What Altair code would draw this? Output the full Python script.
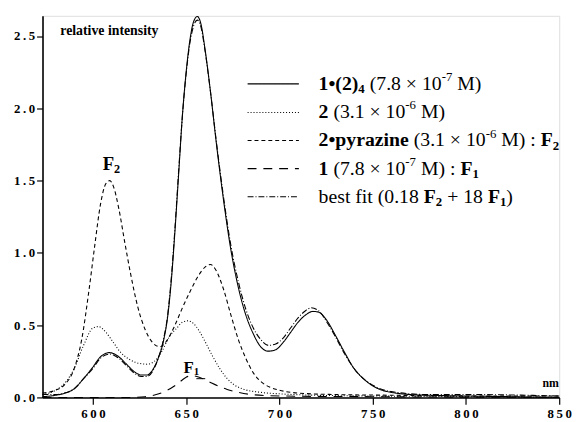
import altair as alt
import pandas as pd

# ---------------- data ----------------
solid_x = [573, 580, 585, 590, 595, 600, 604, 609, 614, 618, 622, 626, 629, 632, 635, 638, 640, 642, 644, 646,
           648, 650, 652, 654, 656, 658, 660, 663, 666, 670, 674, 678, 682, 686, 690, 694, 698, 702, 706, 710,
           714, 718, 721, 725, 730, 735, 740, 745, 750, 755, 760, 770, 780, 800, 850]
solid_y = [0.005, 0.015, 0.03, 0.06, 0.13, 0.21, 0.28, 0.31, 0.28, 0.23, 0.18, 0.155, 0.155, 0.19, 0.27, 0.40,
           0.55, 0.80, 1.15, 1.55, 1.95, 2.25, 2.47, 2.60, 2.635, 2.58, 2.42, 2.12, 1.78, 1.37, 1.02, 0.76, 0.57,
           0.44, 0.35, 0.32, 0.33, 0.38, 0.45, 0.52, 0.57, 0.595, 0.59, 0.54, 0.43, 0.31, 0.20, 0.13, 0.08, 0.05,
           0.035, 0.02, 0.015, 0.01, 0.0]

dot_x = [573, 580, 585, 590, 595, 600, 603, 607, 611, 615, 620, 625, 629, 633, 637, 641, 645, 648, 651, 654,
         657, 660, 664, 668, 672, 676, 680, 690, 700, 720, 750, 800, 850]
dot_y = [0.02, 0.05, 0.10, 0.20, 0.36, 0.48, 0.49, 0.45, 0.38, 0.31, 0.26, 0.235, 0.23, 0.25, 0.32, 0.42, 0.48,
         0.52, 0.53, 0.51, 0.46, 0.39, 0.29, 0.20, 0.13, 0.085, 0.06, 0.035, 0.025, 0.015, 0.01, 0.005, 0.0]

pyr_x = [573, 580, 585, 590, 594, 598, 601, 604, 607, 609, 611, 614, 617, 620, 624, 628, 632, 636, 640, 644,
         648, 652, 656, 660, 663, 666, 670, 674, 678, 682, 686, 690, 695, 700, 710, 730, 760, 800, 850]
pyr_y = [0.03, 0.05, 0.09, 0.20, 0.40, 0.75, 1.05, 1.33, 1.48, 1.50, 1.46, 1.30, 1.08, 0.87, 0.63, 0.47, 0.38,
         0.35, 0.40, 0.50, 0.62, 0.73, 0.83, 0.90, 0.92, 0.88, 0.75, 0.57, 0.40, 0.27, 0.17, 0.11, 0.07, 0.05,
         0.03, 0.02, 0.015, 0.01, 0.01]

f1_x = [573, 600, 620, 628, 634, 640, 645, 650, 653, 657, 662, 667, 672, 678, 685, 700, 750, 850]
f1_y = [0.0, 0.0, 0.0, 0.005, 0.02, 0.05, 0.09, 0.14, 0.15, 0.14, 0.11, 0.08, 0.055, 0.035, 0.02, 0.01, 0.005, 0.0]

fit_x = [573, 580, 585, 590, 595, 600, 604, 609, 614, 618, 622, 626, 629, 632, 635, 638, 640, 642, 644, 646,
         648, 650, 652, 654, 656, 658, 660, 663, 666, 670, 674, 678, 682, 686, 690, 694, 698, 702, 706, 710,
         714, 717, 721, 725, 730, 735, 740, 745, 750, 760, 780, 800, 850]
fit_y = [0.02, 0.02, 0.03, 0.06, 0.13, 0.20, 0.27, 0.30, 0.27, 0.22, 0.17, 0.145, 0.145, 0.18, 0.27, 0.41, 0.56,
         0.82, 1.17, 1.57, 1.95, 2.24, 2.45, 2.57, 2.61, 2.56, 2.41, 2.12, 1.79, 1.39, 1.05, 0.80, 0.61, 0.48,
         0.40, 0.36, 0.37, 0.41, 0.48, 0.55, 0.60, 0.62, 0.60, 0.53, 0.42, 0.30, 0.20, 0.13, 0.085, 0.04, 0.02,
         0.02, 0.01]

series_names = ["1•(2)4", "2", "2•pyrazine", "1", "best fit"]
series_dash = [[1, 0], [1, 2], [4, 3], [9, 7], [6, 2, 1, 2]]

y_ticks = [0.0, 0.5, 1.0, 1.5, 2.0, 2.5]
x_ticks = [600, 650, 700, 750, 800, 850]

rows = []
for name, xs, ys in [(series_names[0], solid_x, solid_y), (series_names[1], dot_x, dot_y),
                     (series_names[2], pyr_x, pyr_y), (series_names[3], f1_x, f1_y),
                     (series_names[4], fit_x, fit_y)]:
    for a, b in zip(xs, ys):
        rows.append({"series": name, "nm": a, "v": b})
df = pd.DataFrame(rows)

SERIF = "Liberation Serif"

lab_expr = "join(split(format(datum.value, '{f}'), ''), '\u2009')"

lines = alt.Chart(df).mark_line(color="black", strokeWidth=1.1, interpolate="monotone").encode(
    x=alt.X("nm:Q", scale=alt.Scale(domain=[573, 850], nice=False, zero=False),
            axis=alt.Axis(values=x_ticks, title=None, grid=False, labelExpr=lab_expr.format(f="d"),
                          labelFont=SERIF, labelFontWeight="bold", labelFontSize=13, labelColor="black",
                          tickSize=7, tickColor="black", tickWidth=1.2, domainColor="black", domainWidth=1.6,
                          labelPadding=3, labelFlush=False, labelOverlap=False)),
    y=alt.Y("v:Q", scale=alt.Scale(domain=[0, 2.64], nice=False),
            axis=alt.Axis(values=y_ticks, title=None, grid=False, labelExpr=lab_expr.format(f=".1f"),
                          labelFont=SERIF, labelFontWeight="bold", labelFontSize=13, labelColor="black",
                          tickSize=6, tickColor="black", tickWidth=1.2, domainColor="black", domainWidth=1.6,
                          labelPadding=2, labelFlush=False, labelOverlap=False)),
    strokeDash=alt.StrokeDash("series:N", scale=alt.Scale(domain=series_names, range=series_dash), legend=None),
    detail="series:N",
)

# ---------------- text helpers ----------------
W_N = {' ': 250, '(': 333, ')': 333, '.': 250, '×': 564, 'M': 889, 'b': 500, 'e': 444, 's': 389, 't': 278,
       'f': 333, 'i': 278, '+': 564, ':': 278, '-': 333, 'F': 556}
W_B = {' ': 250, '(': 333, ')': 333, '•': 350, 'p': 556, 'y': 500, 'r': 444, 'a': 500, 'z': 444, 'i': 278,
       'n': 556, 'e': 444, 'F': 611, 'M': 944, ':': 333, 'l': 278, 't': 333, 'v': 500, 's': 389, 'm': 833}


def text_width(t, bold):
    table = W_B if bold else W_N
    return sum(table.get(c, 500) for c in t) / 1000.0


one = pd.DataFrame({"k": [0]})


def runs(items, x0, y0, size):
    out = []
    x = x0
    for item in items:
        t, bold, kind = item
        fs = size if kind == "n" else size * 0.65
        yy = y0 if kind == "n" else (y0 + size * 0.28 if kind == "sub" else y0 - size * 0.35)
        if t.strip():
            out.append(alt.Chart(one).mark_text(
                text=t, align="left", baseline="middle", font=SERIF, fontSize=fs,
                fontWeight="bold" if bold else "normal", color="black"
            ).encode(x=alt.value(x), y=alt.value(yy)))
        x += text_width(t, bold) * fs
    return out


B, N = True, False
S = " "
leg_size = 20
leg_x = 280
leg_y = [69, 98, 126.5, 155, 183.5]
legend_rows = [
    [("1•(2)", B, "n"), ("4", B, "sub"), (S, N, "n"), ("(7.8 × 10", N, "n"), ("-7", N, "sup"), (S, N, "n"), ("M)", N, "n")],
    [("2", B, "n"), (S, N, "n"), ("(3.1 × 10", N, "n"), ("-6", N, "sup"), (S, N, "n"), ("M)", N, "n")],
    [("2•pyrazine", B, "n"), (S, N, "n"), ("(3.1 × 10", N, "n"), ("-6", N, "sup"), (S, N, "n"), ("M) :", N, "n"),
     (S, N, "n"), ("F", B, "n"), ("2", B, "sub")],
    [("1", B, "n"), (S, N, "n"), ("(7.8 × 10", N, "n"), ("-7", N, "sup"), (S, N, "n"), ("M) :", N, "n"),
     (S, N, "n"), ("F", B, "n"), ("1", B, "sub")],
    [("best fit (0.18", N, "n"), (S, N, "n"), ("F", B, "n"), ("2", B, "sub"), (S, N, "n"), ("+ 18", N, "n"),
     (S, N, "n"), ("F", B, "n"), ("1", B, "sub"), (")", N, "n")],
]

layers = [lines]
for i, row in enumerate(legend_rows):
    layers.append(alt.Chart(one).mark_rule(color="black", strokeWidth=1.1, strokeDash=series_dash[i]).encode(
        x=alt.value(208), x2=alt.value(260), y=alt.value(leg_y[i])))
    layers += runs(row, leg_x, leg_y[i], leg_size)

layers += runs([("relative intensity", B, "n")], 18, 15, 14)
layers += runs([("F", B, "n"), ("2", B, "sub")], 61, 150, 19)
layers += runs([("F", B, "n"), ("1", B, "sub")], 143, 357, 17)
layers.append(alt.Chart(one).mark_rule(color="black", strokeWidth=1).encode(
    x=alt.value(156), x2=alt.value(165), y=alt.value(368)))
layers += runs([("nm", B, "n")], 507, 372, 12)

chart = alt.layer(*layers).properties(
    width=524, height=387,
    autosize=alt.AutoSizeParams(type="none"),
    padding={"left": 35, "top": 5, "right": 15, "bottom": 22},
).configure_view(stroke=None).configure(background="white")

chart.save("out.html", embed_options={"renderer": "svg", "actions": False})
